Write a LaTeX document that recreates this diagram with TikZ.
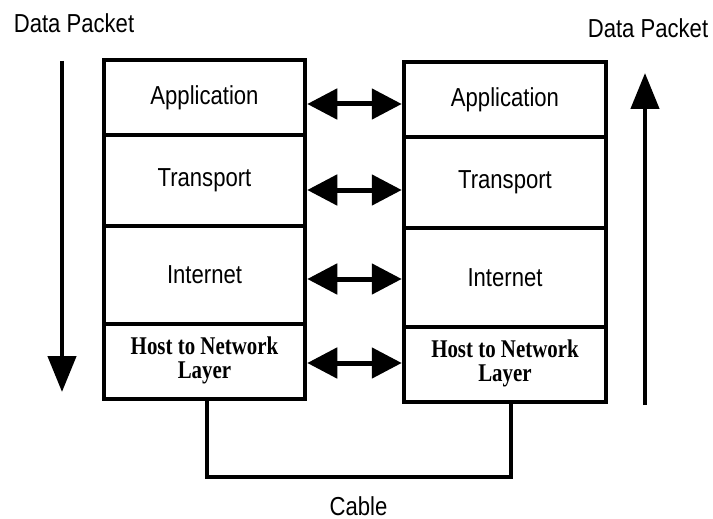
\documentclass[tikz,border=0pt]{standalone}
\usepackage{graphicx}
\usepackage{fontspec}
\setmainfont{Liberation Sans}
\newfontfamily\hostfont{Liberation Serif}
\usetikzlibrary{arrows.meta}

% narrow sans labels and the bold serif two-line label
\newcommand{\lbl}[1]{\scalebox{0.85}[1]{#1}}
\newcommand{\hostlbl}{\scalebox{0.82}[1]{\hostfont\bfseries\fontsize{25.5}{24}\selectfont
  \begin{tabular}{@{}c@{}}Host to Network\\Layer\end{tabular}}}

\tikzset{
  layer/.style={draw, line width=4.5pt, inner sep=0pt, font=\fontsize{26}{30}\selectfont},
  leftlayer/.style={layer, minimum width=201pt},
  rightlayer/.style={layer, minimum width=202pt},
  biarrow/.style={line width=5pt,
    {Triangle[length=30pt,width=30pt]}-{Triangle[length=30pt,width=30pt]}},
  flow/.style={line width=4.5pt, -{Triangle[length=36pt,width=28pt]}},
  cable/.style={line width=4.5pt},
  caption/.style={font=\fontsize{26}{30}\selectfont, inner sep=0pt, anchor=base}
}

\begin{document}
\begin{tikzpicture}[x=1pt, y=-1pt]
\useasboundingbox (0,0) rectangle (713,519);

% sending stack
\node[leftlayer, minimum height=75pt] (lapp)  at (204.5,97.5)  {\lbl{Application}};
\node[leftlayer, minimum height=91pt] (ltr)   at (204.5,180.5) {\lbl{Transport}};
\node[leftlayer, minimum height=98pt] (lint)  at (204.5,275)   {\lbl{Internet}};
\node[leftlayer, minimum height=75pt] (lhost) at (204.5,361.5) {\hostlbl};

% receiving stack
\node[rightlayer, minimum height=75pt] (rapp)  at (505,99.5)  {\lbl{Application}};
\node[rightlayer, minimum height=91pt] (rtr)   at (505,182.5) {\lbl{Transport}};
\node[rightlayer, minimum height=99pt] (rint)  at (505,277.5) {\lbl{Internet}};
\node[rightlayer, minimum height=75pt] (rhost) at (505,364.5) {\hostlbl};

% peer-to-peer arrows between matching layers
\path ([yshift=-6.5pt]lapp.east) coordinate (pa)
      ([yshift=-9.5pt]ltr.east)  coordinate (pt)
      ([yshift=-4pt]lint.east)   coordinate (pi)
      ([yshift=-1.5pt]lhost.east) coordinate (ph);
\draw[biarrow] (pa) -- (pa -| rapp.west);
\draw[biarrow] (pt) -- (pt -| rtr.west);
\draw[biarrow] (pi) -- (pi -| rint.west);
\draw[biarrow] (ph) -- (ph -| rhost.west);

% physical cable between the two hosts
\coordinate (cl) at (207,477);
\coordinate (cr) at (511,477);
\draw[cable] (cl |- lhost.south) -- (cl) -- (cr) -- (cr |- rhost.south);
\node[caption] (cable) at (358.5,515) {\lbl{Cable}};

% packet direction arrows
\node[caption] (dpl) at (74,33) {\lbl{Data Packet}};
\node[caption] (dpr) at (648,38) {\lbl{Data Packet}};
\coordinate (ltop) at (62,61);
\coordinate (lbot) at (62,392);
\coordinate (rbot) at (645,405);
\coordinate (rtop) at (645,73);
\draw[flow] (ltop) -- (lbot);
\draw[flow] (rbot) -- (rtop);
\end{tikzpicture}
\end{document}
